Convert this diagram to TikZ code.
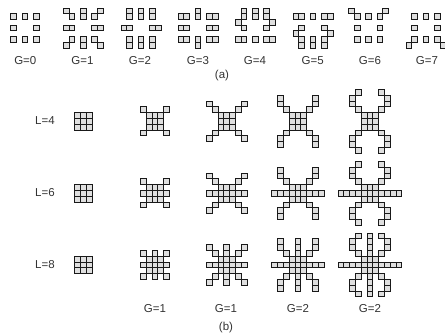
\documentclass[tikz,border=0pt]{standalone}
\usepackage{fontspec}
\usepackage{xcolor}
\setmainfont{Liberation Sans}
\usetikzlibrary{positioning}
\tikzset{
cellbox/.style={draw=black!90,fill=gray!25,line width=0.85pt},
lab/.style={text=black!80,font=\fontsize{11.5}{12}\selectfont,inner sep=0pt}
}
\newcommand{\cellsx}[4]{%
\foreach \i/\j in {#4}{
\foreach \s in {1,-1}{
\draw[cellbox]({#2+\s*\i*#1-0.5*#1},{#3-\j*#1-0.5*#1})rectangle +(#1,#1);
}}}
\newcommand{\cellsxy}[4]{%
\foreach \i/\j in {0/0,1/0,0/1,1/1,#4}{
\foreach \s in {1,-1}{
\foreach \t in {1,-1}{
\draw[cellbox]({#2+\s*\i*#1-0.5*#1},{#3-\t*\j*#1-0.5*#1})rectangle +(#1,#1);
}}}}
\begin{document}
\begin{tikzpicture}[x=1pt,y=-1pt]
\useasboundingbox(0,0)rectangle(445,336);
\fill[white](0,0)rectangle(445,336);
\cellsx{5.7}{25}{28}{2/2,0/2,2/0,2/-2,0/-2}
\cellsx{5.7}{83.3}{28}{2/2,3/3,0/2,0/3,2/0,3/0,2/-2,3/-3,0/-2,0/-3}
\cellsx{5.7}{141}{28}{2/2,2/3,0/2,0/3,2/0,3/0,2/-2,2/-3,0/-2,0/-3}
\cellsx{5.7}{198}{28}{2/2,3/2,0/2,0/3,2/0,3/0,2/-2,3/-2,0/-2,0/-3}
\cellsx{5.7}{255.3}{28}{2/3,0/3,2/2,0/2,3/1,2/0,2/-2,3/-2,0/-2}
\cellsx{5.7}{313}{28}{0/2,2/2,3/2,2/0,3/-1,2/-2,2/-3,0/-2,0/-3}
\cellsx{5.7}{368.5}{28}{3/3,2/2,0/2,2/0,2/-2,0/-2}
\cellsx{5.7}{426}{28}{2/2,0/2,2/0,2/-2,0/-2,3/-3}
\foreach \y in {121.3,193.3,265}{
\cellsxy{5.8}{83.3}{\y}{1/1}
}
\cellsxy{5.8}{155}{121.3}{2/2}
\cellsxy{5.8}{226.7}{121.3}{2/2,3/3}
\cellsxy{5.8}{298}{121.3}{2/2,3/3,3/4}
\cellsxy{5.8}{370}{121.3}{2/2,3/3,3/4,2/5}
\cellsxy{5.8}{155}{193.3}{2/2,2/0}
\cellsxy{5.8}{226.7}{193.3}{2/2,3/3,2/0,3/0}
\cellsxy{5.8}{298}{193.3}{2/2,3/3,3/4,2/0,3/0,4/0}
\cellsxy{5.8}{370}{193.3}{2/2,3/3,3/4,2/5,2/0,3/0,4/0,5/0}
\cellsxy{5.8}{155}{265}{2/2,2/0,0/2}
\cellsxy{5.8}{226.7}{265}{2/2,3/3,2/0,3/0,0/2,0/3}
\cellsxy{5.8}{298}{265}{2/2,3/3,3/4,2/0,3/0,4/0,0/2,0/3,0/4}
\cellsxy{5.8}{370}{265}{2/2,3/3,3/4,2/5,2/0,3/0,4/0,5/0,0/2,0/3,0/4,0/5}
\foreach \n/\x in {0/25.3,1/82.5,2/140,3/198,4/255,5/312.7,6/370,7/427}{
\node[lab](ga\n)at(\x,60.5){G=\n};
}
\node[lab](capa)at(222,75.5){(a)};
\foreach \n/\y in {4/121,6/193,8/265}{
\node[lab](l\n)at(45,\y){L=\n};
}
\node[lab](gb1)at(155,309){G=1};
\node[lab](gb2)at(226,309){G=1};
\node[lab](gb3)at(298,309){G=2};
\node[lab](gb4)at(370,309){G=2};
\node[lab](capb)at(226,327.5){(b)};
\end{tikzpicture}
\end{document}
